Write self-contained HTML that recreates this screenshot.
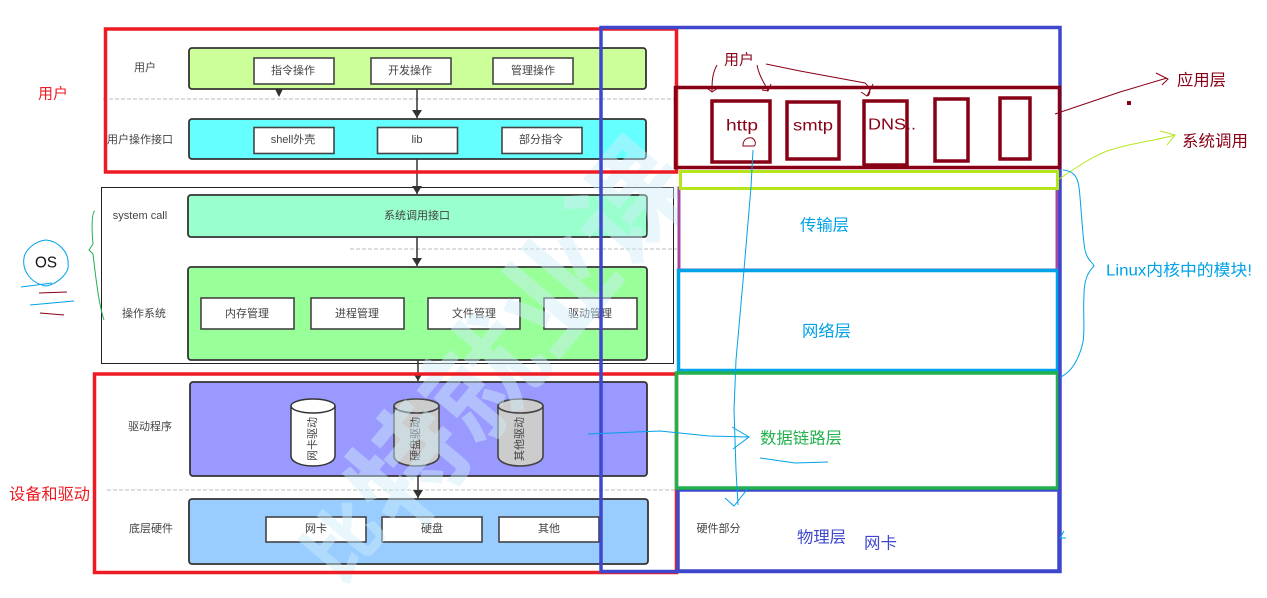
<!DOCTYPE html>
<html><head><meta charset="utf-8"><style>
html,body{margin:0;padding:0;background:#fff;width:1267px;height:598px;overflow:hidden}
svg{display:block;overflow:hidden}
text{font-family:"Liberation Sans","Noto Sans CJK SC",sans-serif}
.l{font-size:11px;fill:#444;text-anchor:middle;dominant-baseline:central}
.b{fill:#ccc;stroke:#444;stroke-width:1.6}
.w{fill:#fff;stroke:#444;stroke-width:1.6}
.p{fill:none;stroke-width:1}
.t{font-size:16px;dominant-baseline:central}
</style></head><body>
<svg width="1267" height="598" viewBox="0 0 1267 598" xmlns="http://www.w3.org/2000/svg">
<defs>
<marker id="a" viewBox="0 0 8 12" refX="8" refY="6" markerWidth="8" markerHeight="12" markerUnits="userSpaceOnUse" orient="auto"><path d="M0,1L8,6L0,11Z" fill="#333"/></marker>
</defs>
<rect x="101.500" y="187.500" width="572" height="176" fill="#fff" stroke="#222"/>
<g stroke="#bbb" stroke-dasharray="4 2" stroke-width="1">
<line x1="103" y1="99" x2="677" y2="99"/><line x1="350" y1="249" x2="677" y2="249"/><line x1="107" y1="490" x2="677" y2="490"/>
</g>
<g stroke="#333" stroke-width="1.500" fill="none">
<line x1="417" y1="89" x2="417" y2="118" marker-end="url(#a)"/>
<line x1="417" y1="159" x2="417" y2="194" marker-end="url(#a)"/>
<line x1="417" y1="237" x2="417" y2="266" marker-end="url(#a)"/>
<line x1="418" y1="360" x2="418" y2="381" marker-end="url(#a)"/>
<line x1="418" y1="476" x2="418" y2="498" marker-end="url(#a)"/>
</g>
<path d="M275,89H283L279,97Z" fill="#333"/>
<g stroke="#333" stroke-width="1.800">
<rect x="189" y="48" width="457" height="41" rx="3" fill="#ccff99"/>
<rect x="189" y="119" width="457" height="40" rx="3" fill="#66ffff"/>
<rect x="188" y="195" width="459" height="42" rx="3" fill="#99ffcc"/>
<rect x="188" y="267" width="459" height="93" rx="3" fill="#99ff99"/>
<rect x="190" y="382" width="457" height="94" rx="3" fill="#9999ff"/>
<rect x="189" y="499" width="459" height="65" rx="3" fill="#99ccff"/>
</g>
<g>
<rect class="w" x="254" y="58" width="80" height="26"/><rect class="w" x="371" y="58" width="80" height="26"/><rect class="w" x="493" y="58" width="80" height="26"/>
<rect class="w" x="254" y="127.500" width="80" height="26"/><rect class="w" x="377.500" y="127.500" width="80" height="26"/><rect class="w" x="502" y="127.500" width="80" height="26"/>
<rect class="w" x="201" y="298" width="93" height="31"/><rect class="w" x="311" y="298" width="93" height="31"/><rect class="w" x="428" y="298" width="92" height="31"/><rect class="w" x="544" y="298" width="93" height="31"/>
<rect class="w" x="266" y="517" width="100" height="25"/><rect class="w" x="382" y="517" width="100" height="25"/><rect class="w" x="499" y="517" width="100" height="25"/>
</g>
<g>
<path d="M291,406V456C291,462 301,466 313,466S335,462 335,456V406Z" fill="#fff" stroke="#333" stroke-width="1.500"/><ellipse cx="313" cy="406" rx="22" ry="7" fill="#fff" stroke="#333" stroke-width="1.500"/>
<path d="M394,406V456C394,462 404,466 416,466S439,462 439,456V406Z" class="b"/><ellipse cx="416.500" cy="406" rx="22.500" ry="7" class="b"/>
<path d="M498,406V456C498,462 508,466 520,466S543,462 543,456V406Z" class="b"/><ellipse cx="520.500" cy="406" rx="22.500" ry="7" class="b"/>
</g>
<g>
<text class="l" x="145" y="68">用户</text>
<text class="l" x="140" y="140">用户操作接口</text>
<text class="l" x="140" y="216">system call</text>
<text class="l" x="144" y="314">操作系统</text>
<text class="l" x="150" y="427">驱动程序</text>
<text class="l" x="151" y="529">底层硬件</text>
<text class="l" x="293" y="71">指令操作</text><text class="l" x="410" y="71">开发操作</text><text class="l" x="533" y="71">管理操作</text>
<text class="l" x="293" y="140">shell外壳</text><text class="l" x="417" y="140">lib</text><text class="l" x="541" y="140">部分指令</text>
<text class="l" x="417" y="216">系统调用接口</text>
<text class="l" x="247" y="314">内存管理</text><text class="l" x="357" y="314">进程管理</text><text class="l" x="474" y="314">文件管理</text><text class="l" x="590" y="314">驱动管理</text>
<text class="l" x="316" y="529">网卡</text><text class="l" x="432" y="529">硬盘</text><text class="l" x="549" y="529">其他</text>
<text class="l" transform="translate(313,439) rotate(-90)">网卡驱动</text>
<text class="l" transform="translate(416,439) rotate(-90)">硬盘驱动</text>
<text class="l" transform="translate(520,439) rotate(-90)">其他驱动</text>
</g>
<g opacity=".45">
<text x="0" y="0" font-weight="700" fill="#cfeffc" style="font-size:75px" transform="translate(340,586) rotate(-50)">比</text>
<text x="0" y="0" font-weight="700" fill="#cfeffc" style="font-size:115px" transform="translate(404,537) rotate(-50)">特就业课</text>
</g>
<rect x="678" y="29" width="381" height="541" fill="#fff"/>
<rect x="105.500" y="29" width="571" height="143" fill="none" stroke="#ed1c24" stroke-width="3.500"/>
<rect x="94.500" y="374" width="582" height="198.500" fill="none" stroke="#ed1c24" stroke-width="3.500"/>
<rect x="679" y="188" width="378" height="82" fill="#fff" stroke="#a349a4" stroke-width="3"/>
<rect x="678.500" y="270.500" width="379" height="100" fill="#fff" stroke="#00a2e8" stroke-width="3.500"/>
<rect x="678" y="490" width="381" height="81" fill="#fff" stroke="#3f48cc" stroke-width="3.500"/>
<rect x="676.500" y="373" width="381" height="115" fill="none" stroke="#22b14c" stroke-width="3.500"/>
<rect x="601" y="27.500" width="459" height="544" fill="none" stroke="#3f48cc" stroke-width="3.500"/>
<rect x="680.500" y="171.500" width="377" height="17" fill="#fff" stroke="#b5e61d" stroke-width="3"/>
<rect x="675.500" y="87.500" width="384" height="80" fill="none" stroke="#880015" stroke-width="3.500"/>
<g fill="none" stroke="#880015" stroke-width="3.500">
<rect x="712" y="101" width="58" height="61"/>
<rect x="787" y="102" width="52" height="57"/>
<rect x="864" y="101" width="43" height="64"/>
<rect x="935" y="99" width="33" height="62"/>
<rect x="1000" y="98" width="30" height="61"/>
</g>
<g>
<text class="t" x="38" y="94" fill="#ed1c24" style="font-size:15px">用户</text>
<text class="t" x="9" y="495" fill="#ed1c24" textLength="81" lengthAdjust="spacingAndGlyphs">设备和驱动</text>
<text class="t" x="35" y="263" fill="#111" textLength="22" lengthAdjust="spacingAndGlyphs">OS</text>
<text class="t" x="724" y="60" fill="#880015" style="font-size:15px">用户</text>
<text class="t" x="726" y="126" fill="#880015" textLength="32" lengthAdjust="spacingAndGlyphs">http</text>
<text class="t" x="793" y="126" fill="#880015" textLength="40" lengthAdjust="spacingAndGlyphs">smtp</text>
<text class="t" x="868" y="125" fill="#880015" textLength="48" lengthAdjust="spacingAndGlyphs">DNS..</text>
<text class="t" x="1177" y="81" fill="#880015" textLength="49" lengthAdjust="spacingAndGlyphs">应用层</text>
<text class="t" x="1182" y="142" fill="#880015" textLength="66" lengthAdjust="spacingAndGlyphs">系统调用</text>
<text class="t" x="1106" y="271" fill="#00a2e8" textLength="146" lengthAdjust="spacingAndGlyphs">Linux内核中的模块!</text>
<text class="t" x="800" y="226" fill="#00a2e8" textLength="49" lengthAdjust="spacingAndGlyphs">传输层</text>
<text class="t" x="802" y="332" fill="#00a2e8" textLength="49" lengthAdjust="spacingAndGlyphs">网络层</text>
<text class="t" x="760" y="439" fill="#22b14c" textLength="82" lengthAdjust="spacingAndGlyphs">数据链路层</text>
<text class="t" x="797" y="538" fill="#3f48cc" textLength="49" lengthAdjust="spacingAndGlyphs">物理层</text>
<text class="t" x="864" y="544" fill="#3f48cc" textLength="33" lengthAdjust="spacingAndGlyphs">网卡</text>
<text class="l" x="718.500" y="529">硬件部分</text>
</g>
<g>
<path class="p" stroke="#00a2e8" d="M46,240C58,241 69,252 68,264C70,272 58,284 46,286C30,283 22,270 24,258C25,250 35,241 46,240Z"/>
<path class="p" stroke="#00a2e8" d="M21,287L52,283M30,305L74,301"/>
<path class="p" stroke="#880015" d="M39,293L67,292M40,313L64,315"/>
<path class="p" stroke="#22b14c" d="M95,211C91,212 92,235 93,244L89,250L93,254C96,280 99,305 104,320"/>
<path class="p" stroke="#880015" d="M717,65C712,74 712,82 712,91M707,88L712,92L718,88M757,65C759,76 764,82 768,91M762,90L768,91L771,84M766,64L800,71L865,83C871,88 871,92 868,96M861,92L867,96L873,84"/>
<path class="p" stroke="#880015" d="M1055,114L1120,92L1167,78M1156,73L1168,79L1162,85"/>
<rect x="1127" y="101" width="4" height="4" fill="#880015"/>
<path class="p" stroke="#b5e61d" d="M1059,179C1080,165 1095,155 1110,150C1135,142 1155,141 1175,135M1160,131L1175,135L1167,145"/>
<path class="p" stroke="#00a2e8" d="M1063,170C1078,171 1079,183 1080,197C1082,220 1083,240 1085,250C1088,262 1093,262 1094,266C1088,272 1084,280 1084,295C1083,315 1085,330 1083,342C1079,360 1071,372 1061,377"/>
<path class="p" stroke="#00a2e8" d="M753,150L751,187L744,270L736,360L734,410L736,470L738,505M725,498L734,506L749,487"/>
<path class="p" stroke="#00a2e8" d="M588,434L660,431L709,436L749,437M732,427L749,437L733,449M760,458L795,463L828,462"/>
<path class="p" stroke="#880015" d="M743,144C744,139 748,137 752,138C756,140 756,145 754,146H743Z"/>
<path class="p" stroke="#00a2e8" d="M1064,531L1060,538L1066,538"/>
</g>
</svg>
</body></html>
